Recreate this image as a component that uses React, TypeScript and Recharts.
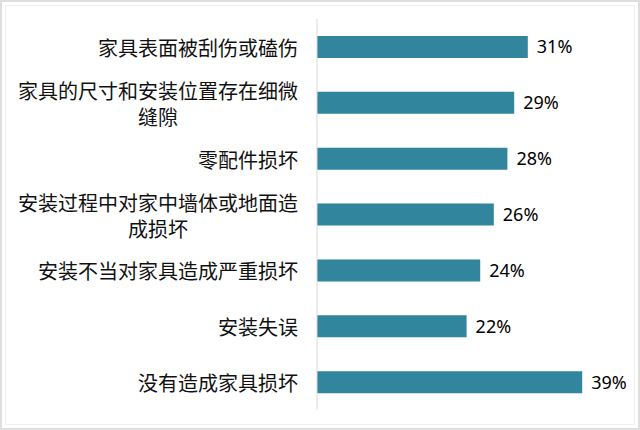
import { Bar, BarChart, LabelList, XAxis, YAxis } from "recharts";

const CATEGORIES = [
  "家具表面被刮伤或磕伤",
  "家具的尺寸和安装位置存在细微\n缝隙",
  "零配件损坏",
  "安装过程中对家中墙体或地面造\n成损坏",
  "安装不当对家具造成严重损坏",
  "安装失误",
  "没有造成家具损坏",
];

const VALUES = [31, 29, 28, 26, 24, 22, 39];

const BAR_COLOR = "#31859C";
const LABEL_FONT = 20;
const LINE_HEIGHT = 26;

const data = CATEGORIES.map((name, i) => ({ name, value: VALUES[i] }));

type TickProps = {
  x?: number;
  y?: number;
  payload?: { value: string };
};

// multi-line labels: block right-aligned to the axis, lines centred inside it
const CategoryTick = ({ x = 0, y = 0, payload }: TickProps) => {
  const lines = String(payload?.value ?? "").split("\n");
  const blockWidth = Math.max(...lines.map((l) => l.length)) * LABEL_FONT;
  const cx = x - blockWidth / 2;
  const startY = y - ((lines.length - 1) * LINE_HEIGHT) / 2;
  return (
    <text
      x={cx}
      y={startY}
      textAnchor="middle"
      dominantBaseline="central"
      fontSize={LABEL_FONT}
      fontFamily='"Noto Sans CJK SC", sans-serif'
      fill="#111"
    >
      {lines.map((line, i) => (
        <tspan key={i} x={cx} y={startY + i * LINE_HEIGHT}>
          {line}
        </tspan>
      ))}
    </text>
  );
};

const App = () => {
  return (
    <div
      style={{
        position: "relative",
        width: 640,
        height: 430,
        boxSizing: "border-box",
        border: "2px solid #dedede",
        background: "#fff",
      }}
    >
      <style>{`body{margin:0}`}</style>
      <div
        style={{
          position: "absolute",
          left: 3,
          top: 3,
          right: 3,
          bottom: 3,
          border: "1px solid #efefef",
        }}
      />
      <div style={{ position: "absolute", left: -2, top: -2 }}>
        <BarChart
          width={640}
          height={430}
          data={data}
          layout="vertical"
          margin={{ top: 19, right: 51, bottom: 20, left: 0 }}
          barSize={22}
        >
          <XAxis type="number" domain={[0, 40]} hide />
          <YAxis
            type="category"
            dataKey="name"
            width={317}
            axisLine={{ stroke: "#d9d9d9" }}
            tickLine={false}
            tickSize={0}
            tickMargin={19}
            interval={0}
            tick={<CategoryTick />}
          />
          <Bar dataKey="value" fill={BAR_COLOR} isAnimationActive={false}>
            <LabelList
              dataKey="value"
              position="right"
              offset={9}
              formatter={(v: number) => `${v}%`}
              fontSize={18}
              fontFamily='"Noto Sans", sans-serif'
              fill="#000"
            />
          </Bar>
        </BarChart>
      </div>
    </div>
  );
};

export default App;
